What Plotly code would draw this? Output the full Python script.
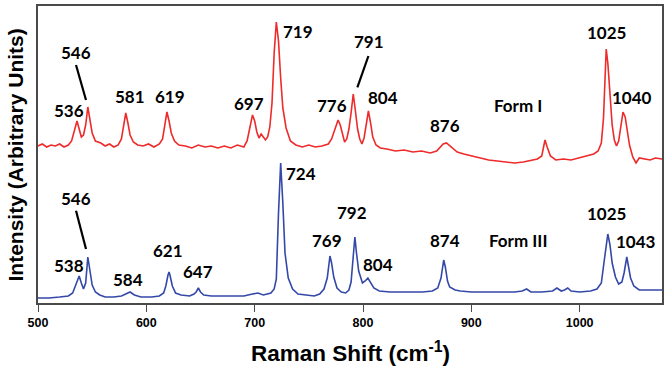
import plotly.graph_objects as go

# ---- Data ----
form1_shift = [500, 504, 508, 512, 516, 520, 524, 528, 531, 533, 536, 538, 540, 542, 544, 546, 548, 550,
               553, 558, 562, 566, 570, 574, 577, 579, 581, 583, 585, 588, 592, 597, 602, 607, 612, 615,
               617, 619, 621, 623, 626, 630, 636, 642, 648, 654, 660, 666, 672, 678, 684, 690, 693, 696,
               698, 700, 702, 704, 706, 708, 710, 712, 714, 716, 718, 720, 722, 724, 726, 729, 733, 738,
               744, 750, 756, 762, 768, 771, 774, 777, 779, 781, 783, 785, 787, 789, 791, 793, 795, 797,
               799, 801, 803, 805, 807, 809, 812, 816, 822, 830, 838, 846, 854, 862, 868, 871, 874, 877,
               880, 883, 887, 893, 900, 908, 916, 924, 932, 940, 948, 955, 961, 965, 968, 970, 973, 978,
               985, 992, 1000, 1008, 1013, 1017, 1020, 1022, 1024.5, 1026, 1028, 1030, 1032, 1034, 1036,
               1038, 1040, 1042, 1044, 1046, 1049, 1052, 1055, 1060, 1065, 1070, 1076]
form1_int = [157, 159, 156, 158, 157, 159, 156, 158, 162, 170, 182, 174, 166, 168, 178, 196, 182, 170,
             162, 160, 157, 159, 156, 158, 164, 176, 190, 180, 168, 161, 158, 157, 159, 156, 159, 164,
             176, 191, 182, 170, 162, 158, 157, 155, 158, 156, 157, 155, 157, 155, 158, 156, 162, 178,
             188, 182, 171, 165, 169, 166, 163, 166, 176, 200, 250, 281, 262, 225, 195, 175, 162, 158,
             156, 158, 156, 157, 159, 164, 174, 183, 178, 168, 161, 164, 174, 190, 209, 192, 174, 164,
             159, 165, 180, 192, 180, 166, 158, 155, 154, 152, 153, 151, 152, 150, 152, 155, 159, 160,
             157, 154, 151, 149, 147, 145, 143, 142, 141, 140, 141, 143, 144, 147, 163, 156, 147, 143,
             144, 143, 145, 147, 149, 152, 160, 185, 254, 240, 205, 178, 163, 157, 162,
             178, 191, 186, 172, 158, 146, 140, 145, 144, 143, 145, 144]

form3_shift = [500, 510, 520, 528, 532, 535, 538, 540, 542, 544, 546, 548, 550, 553, 557, 562, 570, 577,
               581, 585, 589, 595, 605, 612, 616, 618, 620, 621, 622, 624, 627, 632, 640, 644, 646, 648,
               650, 653, 660, 675, 690, 698, 703, 708, 712, 715, 718, 720, 722, 724, 726, 728, 731, 735,
               740, 748, 755, 760, 764, 767, 769.5, 771, 773, 776, 780, 784, 787, 789, 791, 792.5, 794,
               796, 799.5, 802, 804.5, 807, 810, 815, 825, 840, 855, 864, 869, 872, 874.5, 876, 878,
               880, 882, 885, 890, 900, 920, 940, 947, 951, 955, 965, 975, 979, 983, 986, 989, 992,
               1000, 1010, 1016, 1020, 1023, 1026, 1028, 1030, 1033, 1036, 1039, 1041, 1043.5, 1045,
               1047, 1050, 1055, 1065, 1076]
form3_int = [5, 5, 6, 7, 10, 18, 27, 20, 14, 20, 46, 32, 18, 11, 8, 6, 6, 7,
             9, 11, 8, 6, 6, 7, 10, 17, 28, 31, 27, 17, 10, 8, 7, 9, 11, 15,
             11, 8, 7, 7, 7, 9, 10, 8, 9, 10, 14, 24, 90, 140, 100, 50, 25, 14,
             9, 8, 7, 9, 14, 25, 47, 40, 26, 15, 11, 10, 13, 21, 45, 66, 50,
             32, 20, 22, 25, 20, 15, 12, 11, 11, 11, 12, 15, 25, 43, 36, 22,
             16, 15, 13, 12, 11, 11, 11, 12, 14, 11, 11, 12, 15, 12, 13, 15, 12,
             11, 12, 14, 20, 45, 69, 58, 40, 26, 19, 21, 30, 46, 38,
             25, 17, 13, 13, 13]

# peak labels: (text, x, y)
form1_labels = [("546", 535.1, 251), ("536", 528.9, 193), ("581", 585, 206.3), ("619", 621.9, 206.3),
                ("697", 694.8, 200), ("719", 740.1, 271.3), ("776", 771.5, 198), ("791", 805.6, 261.3),
                ("804", 818.3, 205.7), ("876", 875.8, 178), ("Form I", 943.5, 198),
                ("1025", 1024.5, 270.7), ("1040", 1048.2, 205.3)]
form3_labels = [("546", 535.1, 104.7), ("538", 528.9, 38), ("584", 582.8, 24), ("621", 619.8, 52.3),
                ("647", 648, 31.3), ("724", 742.8, 130), ("769", 766.6, 62.3), ("792", 789.7, 90.3),
                ("804", 813.7, 38.7), ("874", 875.8, 62.3), ("Form III", 943.5, 62.3),
                ("1025", 1025.1, 89.7), ("1043", 1052.2, 62)]
# leader lines: (x0, y0, x1, y1)
leaders = [(535.1, 238, 544.3, 203), (805.0, 247, 794.8, 215.7), (535.1, 92.3, 544.3, 54)]

x_ticks = [500, 600, 700, 800, 900, 1000]

fig = go.Figure()
fig.add_trace(go.Scatter(x=form1_shift, y=form1_int, mode="lines",
                         line=dict(color="rgb(238,42,42)", width=1.6), showlegend=False))
fig.add_trace(go.Scatter(x=form3_shift, y=form3_int, mode="lines",
                         line=dict(color="rgb(52,72,168)", width=1.6), showlegend=False))

label_font = dict(family="Lato, 'Open Sans', sans-serif", size=17, color="black", weight="bold")
for txt, x, y in form1_labels + form3_labels:
    fig.add_annotation(x=x, y=y, xref="x", yref="y", text="<b>%s</b>" % txt, showarrow=False,
                       font=label_font, xanchor="center", yanchor="middle")

for x0, y0, x1, y1 in leaders:
    fig.add_shape(type="line", x0=x0, y0=y0, x1=x1, y1=y1, xref="x", yref="y",
                  line=dict(color="black", width=2.2))

title_font = dict(family="Liberation Sans, Arial", color="black")
fig.add_annotation(x=0.5, y=-0.165, xref="paper", yref="paper", showarrow=False,
                   text="<b>Raman Shift (cm<sup>-1</sup>)</b>", xanchor="center", yanchor="middle",
                   font=dict(size=22.5, **title_font))
fig.add_annotation(x=-0.0353, y=0.5, xref="paper", yref="paper", showarrow=False, textangle=-90,
                   text="<b>Intensity (Arbitrary Units)</b>", xanchor="center", yanchor="middle",
                   font=dict(size=21, **title_font))

fig.update_layout(
    width=671, height=370,
    margin=dict(l=38, r=9, t=6, b=67, autoexpand=False),
    plot_bgcolor="white", paper_bgcolor="white",
    hovermode=False,
    xaxis=dict(range=[500, 1076], tickvals=x_ticks, ticktext=[str(v) for v in x_ticks],
               automargin=False,
               showgrid=False, zeroline=False, showline=True, mirror=True,
               linecolor="#4a4a4a", linewidth=1.5, ticks="outside", ticklen=7,
               tickcolor="#4a4a4a", tickwidth=1.2,
               tickfont=dict(family="Liberation Sans, Arial", size=12.5, color="black", weight="bold")),
    yaxis=dict(range=[0, 297], showticklabels=False, showgrid=False, zeroline=False,
               automargin=False,
               showline=True, mirror=True, linecolor="#4a4a4a", linewidth=1.5, ticks=""),
)

fig.write_html("out.html", config={"displayModeBar": False},
               post_script="document.body.style.margin='0';")
